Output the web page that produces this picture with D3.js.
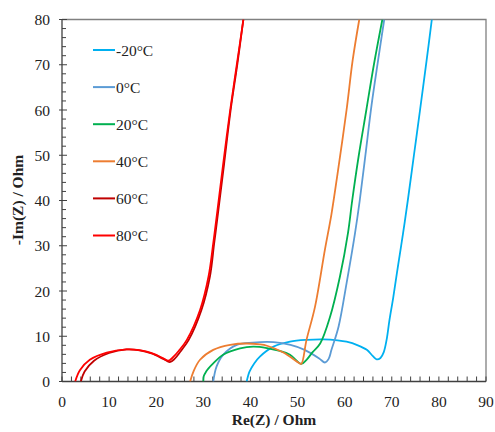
<!DOCTYPE html>
<html><head><meta charset="utf-8">
<script src="https://cdn.jsdelivr.net/npm/d3@7"></script>
<style>body{margin:0;background:#fff}svg{display:block}</style>
</head><body>
<script>
const labels = ["-20°C","0°C","20°C","40°C","60°C","80°C"];
const colors = ["#00B0F0","#5B9BD5","#00B050","#ED7D31","#C00000","#FF0000"];
const xTicks = [0,10,20,30,40,50,60,70,80,90];
const yTicks = [0,10,20,30,40,50,60,70,80];
const sM20 = [[39.2,0],[39.8,2.2],[40.8,4.0],[42.0,5.5],[44.9,7.7],[48.4,8.8],[52,9.2],[55.5,9.3],[58.5,9.1],[60.4,8.8],[62.8,8.0],[64.7,7.0],[66.0,5.6],[66.8,4.9],[67.6,5.2],[68.3,6.5],[68.9,9.2],[69.5,13.5],[70.3,18.5],[71.3,25.4],[72.4,32.8],[73.4,40],[74.7,50],[76.0,60],[77.4,71],[78.5,80]];
const s0 = [[32.1,0],[32.8,3.3],[34.2,5.9],[37.1,8.1],[40.5,8.6],[44.9,8.7],[48.5,8.1],[51.5,7.0],[54.6,5.1],[55.8,4.2],[56.6,5.0],[57.2,7.0],[58.7,12.1],[60.4,21.7],[62.2,32.8],[63.2,40],[64.4,50],[65.7,61],[67.1,71],[68.4,80]];
const s20 = [[30.0,0],[30.1,1.2],[30.6,2.2],[31.1,2.9],[32.1,4.0],[34.2,5.9],[37.8,7.3],[40.6,7.7],[43.5,7.4],[46,6.8],[48.4,5.9],[50.8,3.9],[51.9,4.8],[53.2,6.5],[54.8,8.4],[56.9,14.3],[59.0,23.2],[60.7,32.8],[61.6,40],[63.0,50],[64.6,60],[66.2,70],[68.0,80]];
const s40 = [[27.2,0],[27.9,2.2],[29.3,4.8],[32.1,7.0],[35.7,8.1],[39.2,8.4],[42,8.2],[43.5,7.9],[47.0,6.4],[50.3,4.1],[50.8,3.9],[51.9,9.2],[53.7,16.5],[55.8,29.1],[57.2,37],[58.5,46],[60.4,60],[61.7,71],[63.1,80]];
const s60 = [[4.0,0],[4.8,2.2],[6.8,4.6],[10,6.3],[13.7,7.1],[16.5,6.9],[19,6.2],[21.5,5.0],[22.9,4.3],[23.9,5.0],[25.2,6.7],[26.9,9.2],[29.6,15.8],[31.4,23.2],[32.3,30.5],[33.2,37.9],[34.4,48],[35.8,60],[37.2,70],[38.5,80]];
const s80 = [[2.8,0],[3.8,2.5],[5.9,4.8],[9.5,6.4],[13.7,7.1],[16,7.0],[18.0,6.6],[20,5.9],[21.5,5.1],[22.6,4.6],[23.5,5.3],[24.8,6.8],[26.5,9.2],[29.3,15.8],[31.1,23.2],[32.1,30.5],[33.0,37.9],[34.2,48],[35.7,60],[37.1,70],[38.5,80]];
const series = [sM20, s0, s20, s40, s60, s80];

const W = 495, H = 432;
const m = {l:62, r:9, t:19.5, b:50.5};
const svg = d3.select("body").append("svg").attr("width",W).attr("height",H);
const x = d3.scaleLinear().domain([0,90]).range([m.l, W-m.r]);
const y = d3.scaleLinear().domain([0,80]).range([H-m.b, m.t]);
const font = "'Liberation Serif','Times New Roman',serif";

svg.append("defs").append("clipPath").attr("id","clip").append("rect")
  .attr("x",x(0)).attr("y",y(80)).attr("width",x(90)-x(0)).attr("height",y(0)-y(80));

svg.append("path").attr("d",`M${x(0)},${y(80)}H${x(90)}V${y(0)}`).attr("fill","none").attr("stroke","#808080").attr("stroke-width",1.3);

const minor = d3.range(0,91,2);
const minorY = d3.range(0,81,2);
svg.append("g").selectAll("line").data(minor).join("line")
  .attr("x1",d=>x(d)).attr("x2",d=>x(d)).attr("y1",y(0)).attr("y2",y(0)-5)
  .attr("stroke","#404040").attr("stroke-width",1);
svg.append("g").selectAll("line").data(minorY).join("line")
  .attr("y1",d=>y(d)).attr("y2",d=>y(d)).attr("x1",x(0)).attr("x2",d=> d%10===0 ? x(0)+5 : x(0)+4)
  .attr("stroke","#404040").attr("stroke-width",1);
svg.append("g").selectAll("line").data(yTicks).join("line")
  .attr("y1",d=>y(d)).attr("y2",d=>y(d)).attr("x1",x(0)-3).attr("x2",x(0))
  .attr("stroke","#404040").attr("stroke-width",1);

svg.append("line").attr("x1",x(0)).attr("x2",x(90)).attr("y1",y(0)).attr("y2",y(0)).attr("stroke","#404040").attr("stroke-width",1.3);
svg.append("line").attr("x1",x(0)).attr("x2",x(0)).attr("y1",y(0)).attr("y2",y(80)).attr("stroke","#404040").attr("stroke-width",1.3);

svg.append("g").selectAll("text").data(xTicks).join("text")
  .attr("x",d=>x(d)).attr("y",y(0)+25.5).attr("text-anchor","middle")
  .attr("font-family",font).attr("font-size",15.5).attr("fill","#222").text(d=>d);
svg.append("g").selectAll("text").data(yTicks).join("text")
  .attr("x",x(0)-12).attr("y",d=>y(d)+5.5).attr("text-anchor","end")
  .attr("font-family",font).attr("font-size",15.5).attr("fill","#222").text(d=>d);

svg.append("text").attr("x",274).attr("y",425).attr("text-anchor","middle")
  .attr("font-family",font).attr("font-weight","bold").attr("font-size",15.5).attr("fill","#222").text("Re(Z) / Ohm");
svg.append("text").attr("transform","translate(23,200) rotate(-90)").attr("text-anchor","middle")
  .attr("font-family",font).attr("font-weight","bold").attr("font-size",15.5).attr("fill","#222").text("-Im(Z) / Ohm");

const line = d3.line().x(d=>x(d[0])).y(d=>y(d[1])).curve(d3.curveCatmullRom.alpha(0.5));
const g = svg.append("g").attr("clip-path","url(#clip)");
series.forEach((s,i)=>{
  g.append("path").attr("d",line(s)).attr("fill","none").attr("stroke",colors[i]).attr("stroke-width",1.8);
});

const lg = svg.append("g");
labels.forEach((l,i)=>{
  const yy = 50 + i*37.1;
  lg.append("line").attr("x1",93).attr("x2",115).attr("y1",yy).attr("y2",yy).attr("stroke",colors[i]).attr("stroke-width",2);
  lg.append("text").attr("x",116).attr("y",yy+5.5).attr("font-family",font).attr("font-size",15.5).attr("fill","#222").text(l);
});
</script>
</body></html>
